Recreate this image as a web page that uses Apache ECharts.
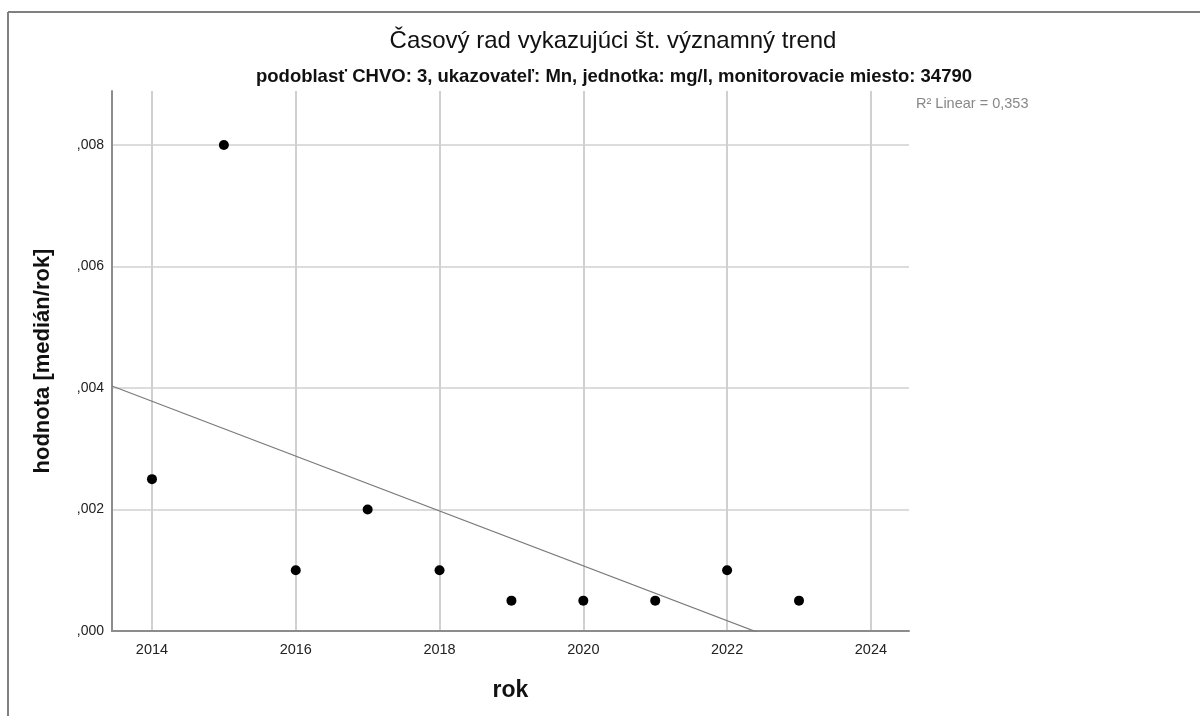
<!DOCTYPE html>
<html>
<head>
<meta charset="utf-8">
<script src="https://cdn.jsdelivr.net/npm/echarts@6/dist/echarts.min.js"></script>
<style>
html,body{margin:0;padding:0;background:#fff;}
#chart{width:1200px;height:716px;}
</style>
</head>
<body>
<div id="chart"></div>
<script>
const years = [2014, 2015, 2016, 2017, 2018, 2019, 2020, 2021, 2022, 2023];
const values = [0.0025, 0.008, 0.001, 0.002, 0.001, 0.0005, 0.0005, 0.0005, 0.001, 0.0005];
const xTicks = [2014, 2016, 2018, 2020, 2022, 2024];
const yTicks = [0, 0.002, 0.004, 0.006, 0.008];
const titleText = 'Časový rad vykazujúci št. významný trend';
const subtitleText = 'podoblasť CHVO: 3, ukazovateľ: Mn, jednotka: mg/l, monitorovacie miesto: 34790';
const r2Text = 'R² Linear = 0,353';

const X_MIN = 2013.444, X_MAX = 2024.53, Y_MAX = 0.00889;

// least-squares fit line from the data
const n = years.length;
const mx = years.reduce((a, b) => a + b, 0) / n;
const my = values.reduce((a, b) => a + b, 0) / n;
let sxy = 0, sxx = 0;
for (let i = 0; i < n; i++) { sxy += (years[i] - mx) * (values[i] - my); sxx += (years[i] - mx) ** 2; }
const slope = sxy / sxx;
const fit = x => my + slope * (x - mx);

const FONT = '"Liberation Sans", Arial, sans-serif';
const chart = echarts.init(document.getElementById('chart'), null, {renderer: 'canvas'});
chart.setOption({
  animation: false,
  backgroundColor: '#fff',
  title: [
    {text: titleText, left: 608, top: 24, textAlign: 'center',
     textStyle: {fontFamily: FONT, fontSize: 24, fontWeight: 'normal', color: '#111'}},
    {text: subtitleText, left: 609, top: 62, textAlign: 'center',
     textStyle: {fontFamily: FONT, fontSize: 18.5, fontWeight: 'bold', color: '#111'}}
  ],
  graphic: [
    {type: 'line', shape: {x1: 8, y1: 12, x2: 1200, y2: 12}, style: {stroke: '#808080', lineWidth: 2}},
    {type: 'line', shape: {x1: 8, y1: 12, x2: 8, y2: 716}, style: {stroke: '#808080', lineWidth: 2}},
    {type: 'text', left: 916, top: 96, style: {text: r2Text, font: '14.5px ' + FONT, fill: '#888'}}
  ],
  grid: {left: 112, right: 291, top: 91, bottom: 85, containLabel: false},
  xAxis: {
    type: 'value', min: X_MIN, max: X_MAX,
    name: 'rok', nameLocation: 'middle', nameGap: 48,
    nameTextStyle: {fontFamily: FONT, fontSize: 23, fontWeight: 'bold', color: '#111'},
    axisLine: {show: true, onZero: false, lineStyle: {color: '#8c8c8c', width: 2}},
    axisTick: {show: false, customValues: xTicks},
    axisLabel: {customValues: xTicks, margin: 11, fontFamily: FONT, fontSize: 14.5, color: '#222',
                formatter: v => String(Math.round(v))},
    splitLine: {show: true, lineStyle: {color: '#d0d0d0', width: 2}}
  },
  yAxis: {
    type: 'value', min: 0, max: Y_MAX,
    name: 'hodnota [medián/rok]', nameLocation: 'middle', nameGap: 58,
    nameTextStyle: {fontFamily: FONT, fontSize: 22, fontWeight: 'bold', color: '#111'},
    axisLine: {show: true, lineStyle: {color: '#8c8c8c', width: 2}},
    axisTick: {show: false, customValues: yTicks},
    axisLabel: {customValues: yTicks, margin: 8, fontFamily: FONT, fontSize: 14, color: '#222',
                formatter: v => v.toFixed(3).replace('0.', ',')},
    splitLine: {show: true, lineStyle: {color: '#d0d0d0', width: 1.5}}
  },
  series: [
    {type: 'line', data: [[X_MIN, fit(X_MIN)], [X_MAX, fit(X_MAX)]], showSymbol: false, symbol: 'none',
     clip: true, lineStyle: {color: '#7a7a7a', width: 1.2}, silent: true, z: 3},
    {type: 'scatter', data: years.map((y, i) => [y, values[i]]), symbolSize: 10,
     itemStyle: {color: '#000', opacity: 1}, z: 4}
  ]
});
</script>
</body>
</html>
